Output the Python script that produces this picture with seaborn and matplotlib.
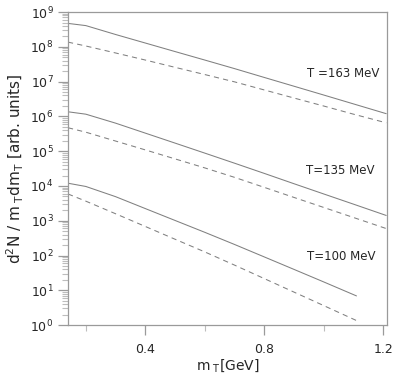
import numpy as np
import pandas as pd
import seaborn as sns
import matplotlib.pyplot as plt
from matplotlib.ticker import LogLocator, MultipleLocator

# transverse mass grid [GeV]
mt = [0.14, 0.2, 0.3, 0.4, 0.5, 0.6, 0.7, 0.8, 0.9, 1.0, 1.1, 1.21]
mt_low = [0.14, 0.2, 0.3, 0.4, 0.5, 0.6, 0.7, 0.8, 0.9, 1.0, 1.11]

# spectra (arb. units)
t163_solid = [4.73e8, 4.09e8, 2.27e8, 1.29e8, 7.33e7, 4.18e7, 2.37e7, 1.32e7, 7.38e6, 4.12e6, 2.29e6, 1.20e6]
t163_dash = [1.37e8, 1.06e8, 6.68e7, 4.18e7, 2.58e7, 1.60e7, 9.86e6, 5.77e6, 3.38e6, 1.99e6, 1.16e6, 6.55e5]
t135_solid = [1.36e6, 1.16e6, 6.41e5, 3.31e5, 1.71e5, 8.81e4, 4.52e4, 2.30e4, 1.16e4, 5.89e3, 3.00e3, 1.42e3]
t135_dash = [4.73e5, 3.52e5, 1.96e5, 1.09e5, 6.01e4, 3.31e4, 1.77e4, 9.12e3, 4.68e3, 2.41e3, 1.24e3, 5.97e2]
t100_solid = [1.20e4, 9.68e3, 4.93e3, 2.24e3, 1.02e3, 4.65e2, 2.08e2, 91.2, 39.9, 17.4, 6.90]
t100_dash = [5.89e3, 3.66e3, 1.59e3, 6.85e2, 2.94e2, 1.27e2, 53.0, 21.7, 8.87, 3.63, 1.35]

labels = ["T =163 MeV", "T=135 MeV", "T=100 MeV"]
label_x = [0.945, 0.94, 0.945]
label_y = [1.66e7, 2.7e4, 91]

sns.set_style("ticks")
plt.rcParams['font.family'] = ['DejaVu Sans']

fig = plt.figure(figsize=(3.93, 3.78), dpi=100)
ax = fig.add_axes([0.173, 0.140, 0.812, 0.828])

line_col = "#808080"
dash = (0, (5, 4))
for x, ys, yd in [(mt, t163_solid, t163_dash),
                  (mt, t135_solid, t135_dash),
                  (mt_low, t100_solid, t100_dash)]:
    sns.lineplot(x=x, y=ys, ax=ax, color=line_col, lw=0.75)
    sns.lineplot(x=x, y=yd, ax=ax, color=line_col, lw=0.75, linestyle=dash)

for lab, lx, ly in zip(labels, label_x, label_y):
    ax.text(lx, ly, lab, fontsize=8.5, va="center", ha="left")

ax.set_yscale("log")
ax.set_xlim(0.14, 1.213)
ax.set_ylim(1, 1e9)
ax.yaxis.set_major_locator(LogLocator(base=10, numticks=15))
ax.yaxis.set_minor_locator(LogLocator(base=10, subs=np.arange(2, 10), numticks=15))
ax.xaxis.set_major_locator(MultipleLocator(0.4))
ax.xaxis.set_minor_locator(MultipleLocator(0.2))
ax.xaxis.set_major_formatter(lambda v, p: f"{v:.1f}")

spine_col = "#9a9a9a"
for s in ax.spines.values():
    s.set_color(spine_col)
    s.set_linewidth(0.9)
ax.tick_params(which="major", length=7, width=0.9, color=spine_col, labelsize=9)
ax.tick_params(which="minor", length=4, width=0.8, color="#bdbdbd")
ax.tick_params(axis="x", which="major", pad=6)

ax.set_xlabel(r"m$_{\ \mathrm{T}}$[GeV]", fontsize=10, labelpad=1)
ax.set_ylabel(r"d$^2$N / m$_{\ \mathrm{T}}$dm$_{\mathrm{T}}$ [arb. units]", fontsize=11, labelpad=3)

fig.savefig("out.png", dpi=100)
